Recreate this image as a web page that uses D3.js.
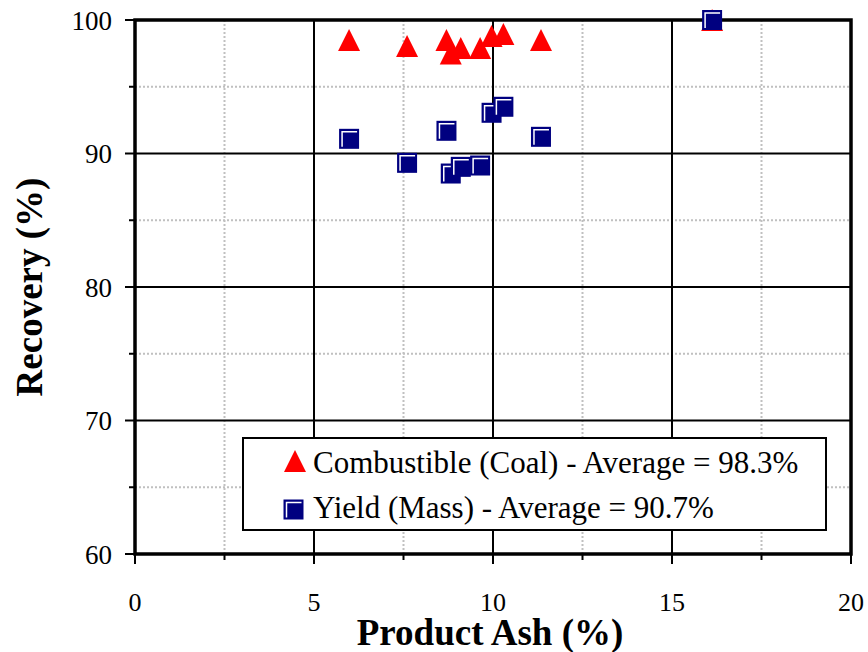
<!DOCTYPE html>
<html>
<head>
<meta charset="utf-8">
<script src="https://cdn.jsdelivr.net/npm/d3@7"></script>
<style>
  body { margin: 0; background: #fff; }
  svg text { font-family: "Liberation Serif", "Times New Roman", Times, "DejaVu Serif", serif; }
</style>
</head>
<body>
<svg width="868" height="652"></svg>
<script>
// Product ash (%) for each test and the two recoveries
const ash        = [5.98, 7.6, 8.7, 8.82, 9.1, 9.64, 9.96, 10.29, 11.34, 16.12];
const combustible = [98.5, 98.05, 98.5, 97.5, 97.9, 97.9, 98.8, 98.95, 98.5, 100];
const yieldMass   = [91.1, 89.3, 91.7, 88.5, 89.0, 89.1, 93.05, 93.5, 91.25, 100];
const xTicks = [0, 5, 10, 15, 20];
const yTicks = [60, 70, 80, 90, 100];
const legendLabels = ['Combustible (Coal) - Average = 98.3%', 'Yield (Mass) - Average = 90.7%'];

const svg = d3.select('svg');
const pLeft = 135, pRight = 851, pTop = 20, pBottom = 554;

const x = d3.scaleLinear().domain([0, 20]).range([pLeft, pRight]);
const y = d3.scaleLinear().domain([60, 100]).range([pBottom, pTop]);

// minor gridlines (gray dashed)
const xMinor = d3.range(2.5, 20, 5);
const yMinor = d3.range(65, 100, 10);
const grid = svg.append('g');
grid.selectAll('.xm').data(xMinor).enter().append('line')
    .attr('x1', d => x(d)).attr('x2', d => x(d))
    .attr('y1', pTop).attr('y2', pBottom)
    .attr('stroke', '#c0c0c0').attr('stroke-width', 2).attr('stroke-dasharray', '2,2');
grid.selectAll('.ym').data(yMinor).enter().append('line')
    .attr('y1', d => y(d)).attr('y2', d => y(d))
    .attr('x1', pLeft).attr('x2', pRight)
    .attr('stroke', '#c0c0c0').attr('stroke-width', 2).attr('stroke-dasharray', '2,2');
// major gridlines
grid.selectAll('.xM').data(xTicks.slice(1, -1)).enter().append('line')
    .attr('x1', d => x(d)).attr('x2', d => x(d))
    .attr('y1', pTop).attr('y2', pBottom)
    .attr('stroke', '#000').attr('stroke-width', 2);
grid.selectAll('.yM').data(yTicks.slice(1, -1)).enter().append('line')
    .attr('y1', d => y(d)).attr('y2', d => y(d))
    .attr('x1', pLeft).attr('x2', pRight)
    .attr('stroke', '#000').attr('stroke-width', 2);

// ticks
const ticks = svg.append('g').attr('stroke', '#000').attr('stroke-width', 2);
ticks.selectAll('.xt').data(xTicks).enter().append('line')
    .attr('x1', d => x(d)).attr('x2', d => x(d))
    .attr('y1', pBottom).attr('y2', pBottom + 10);
ticks.selectAll('.xmt').data(xMinor).enter().append('line')
    .attr('x1', d => x(d)).attr('x2', d => x(d))
    .attr('y1', pBottom).attr('y2', pBottom + 6);
ticks.selectAll('.yt').data(yTicks).enter().append('line')
    .attr('y1', d => y(d)).attr('y2', d => y(d))
    .attr('x1', pLeft - 10).attr('x2', pLeft);
ticks.selectAll('.ymt').data(yMinor).enter().append('line')
    .attr('y1', d => y(d)).attr('y2', d => y(d))
    .attr('x1', pLeft - 6).attr('x2', pLeft);

// frame
svg.append('rect')
    .attr('x', pLeft).attr('y', pTop)
    .attr('width', pRight - pLeft).attr('height', pBottom - pTop)
    .attr('fill', 'none').attr('stroke', '#000').attr('stroke-width', 3.5);

// tick labels
svg.append('g').selectAll('text').data(xTicks).enter().append('text')
    .attr('x', d => x(d)).attr('y', 611)
    .attr('text-anchor', 'middle').attr('font-size', 26)
    .text(d => d);
svg.append('g').selectAll('text').data(yTicks).enter().append('text')
    .attr('x', pLeft - 23).attr('y', d => y(d)).attr('dy', '0.36em')
    .attr('text-anchor', 'end').attr('font-size', 27)
    .text(d => d);

// axis titles
svg.append('text')
    .attr('x', 490).attr('y', 645)
    .attr('text-anchor', 'middle').attr('font-size', 37).attr('font-weight', 'bold')
    .text('Product Ash (%)');
svg.append('text')
    .attr('transform', `translate(42,${(pTop + pBottom) / 2}) rotate(-90)`)
    .attr('text-anchor', 'middle').attr('font-size', 37).attr('font-weight', 'bold')
    .text('Recovery (%)');

// markers
const triPath = 'M0,-11L11,11L-11,11Z';
function drawSquare(g, cx, cy) {
    const s = 10;
    g.append('rect')
        .attr('x', cx - s).attr('y', cy - s).attr('width', 2 * s).attr('height', 2 * s)
        .attr('fill', '#000080');
    g.append('path')
        .attr('d', `M${cx - s + 3},${cy + s - 2}V${cy - s + 3}H${cx + s - 2}`)
        .attr('fill', 'none').attr('stroke', '#fff').attr('stroke-width', 1.5);
}

const pts = svg.append('g');
pts.selectAll('.tri').data(ash).enter().append('path')
    .attr('d', triPath)
    .attr('transform', (d, i) => `translate(${x(d)},${y(combustible[i])})`)
    .attr('fill', '#ff0000');
ash.forEach((d, i) => drawSquare(pts, x(d), y(yieldMass[i])));

// legend
const lg = svg.append('g');
lg.append('rect')
    .attr('x', 243).attr('y', 438).attr('width', 583).attr('height', 92)
    .attr('fill', '#fff').attr('stroke', '#000').attr('stroke-width', 2);
lg.append('path').attr('d', triPath)
    .attr('transform', 'translate(295,461)').attr('fill', '#ff0000');
drawSquare(lg, 293.5, 509.5);
lg.selectAll('text.l').data(legendLabels).enter().append('text')
    .attr('x', 313).attr('y', (d, i) => 473 + i * 45)
    .attr('font-size', 31)
    .text(d => d);
</script>
</body>
</html>
